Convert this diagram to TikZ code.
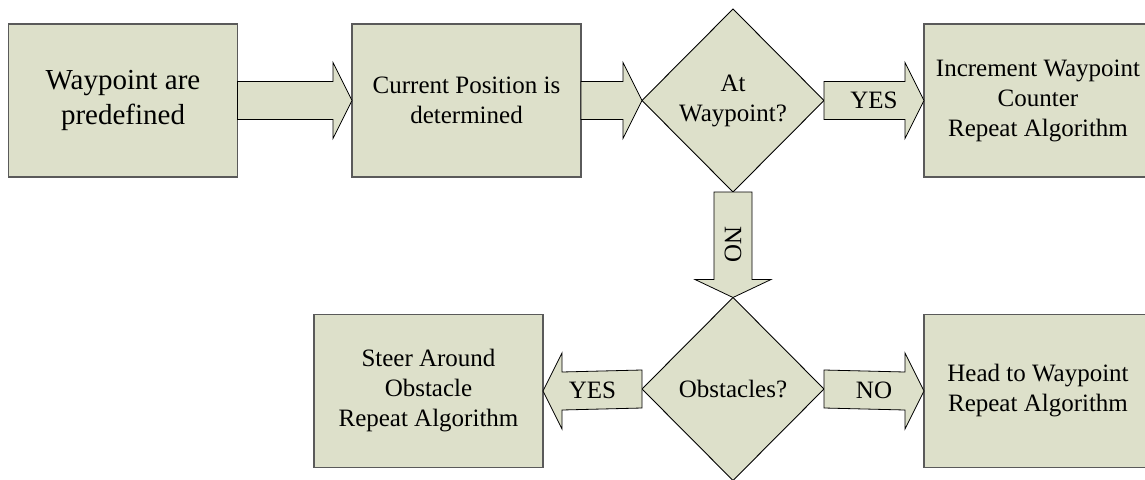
\documentclass[tikz,border=0pt]{standalone}
\usepackage{fontspec}
\setmainfont{Liberation Serif}
\usetikzlibrary{shapes.geometric,calc}
\definecolor{boxfill}{HTML}{DDE0CA}
\definecolor{boxline}{HTML}{5A5A5A}
\tikzset{
  stepbox/.style={draw=boxline, line width=1.2pt, fill=boxfill, rectangle,
    outer sep=0pt, inner sep=0pt, align=center,
    minimum width=229pt, minimum height=153pt,
    font=\fontsize{25}{30}\selectfont},
  bigbox/.style={stepbox, font=\fontsize{29}{35}\selectfont},
  decision/.style={draw=black, line width=0.9pt, fill=boxfill, diamond,
    outer sep=0pt, inner sep=0pt, align=center,
    minimum width=182pt, minimum height=183pt,
    font=\fontsize{25}{30}\selectfont},
  blockarrow/.style={draw=black, line width=0.8pt, fill=boxfill, line join=miter},
  arrowlabel/.style={font=\fontsize{25}{30}\selectfont, inner sep=0pt}
}
\begin{document}
\begin{tikzpicture}[x=1pt,y=-1pt]
\useasboundingbox (0,0) rectangle (1145,479);

\node[bigbox] (b1) at (123,100.5) {Waypoint are\\predefined};
\node[stepbox] (b2) at (466.5,100.5) {Current Position is\\determined};
\node[decision] (d1) at (733,100.5) {At\\Waypoint?};
\node[stepbox, minimum width=228pt] (b3) at (1038,100.5) {Increment Waypoint\\Counter\\Repeat Algorithm};
\node[decision] (d2) at (733,389) {Obstacles?};
\node[stepbox] (b4) at (428.5,391) {Steer Around\\Obstacle\\Repeat Algorithm};
\node[stepbox, minimum width=228pt] (b5) at (1038,391) {Head to Waypoint\\Repeat Algorithm};

% right-pointing block arrows
\draw[blockarrow] ($(b1.east)+(0,-19)$) -- ($(b2.west)+(-19,-19)$) -- ($(b2.west)+(-19,-38)$)
  -- (b2.west) -- ($(b2.west)+(-19,38)$) -- ($(b2.west)+(-19,19)$) -- ($(b1.east)+(0,19)$) -- cycle;
\draw[blockarrow] ($(b2.east)+(0,-19)$) -- ($(d1.west)+(-19,-19)$) -- ($(d1.west)+(-19,-38)$)
  -- (d1.west) -- ($(d1.west)+(-19,38)$) -- ($(d1.west)+(-19,19)$) -- ($(b2.east)+(0,19)$) -- cycle;
\draw[blockarrow] ($(d1.east)+(0,-19)$) -- ($(b3.west)+(-19,-19)$) -- ($(b3.west)+(-19,-38)$)
  -- (b3.west) -- ($(b3.west)+(-19,38)$) -- ($(b3.west)+(-19,19)$) -- ($(d1.east)+(0,19)$) -- cycle;
\node[arrowlabel] (l1) at ($(d1.east)!0.5!(b3.west)$) {YES};

\draw[blockarrow] ($(d2.east)+(0,-19)$) -- ($(b5.west)+(-19,-19)$) -- ($(b5.west)+(-19,-38)$)
  -- (b5.west) -- ($(b5.west)+(-19,38)$) -- ($(b5.west)+(-19,19)$) -- ($(d2.east)+(0,19)$) -- cycle;
\node[arrowlabel] (l3) at ($(d2.east)!0.5!(b5.west)$) {NO};

% left-pointing block arrow
\draw[blockarrow] ($(d2.west)+(0,-19)$) -- ($(b4.east)+(19,-19)$) -- ($(b4.east)+(19,-38)$)
  -- (b4.east) -- ($(b4.east)+(19,38)$) -- ($(b4.east)+(19,19)$) -- ($(d2.west)+(0,19)$) -- cycle;
\node[arrowlabel] (l4) at ($(d2.west)!0.5!(b4.east)$) {YES};

% down-pointing block arrow
\draw[blockarrow] ($(d1.south)+(-19,0)$) -- ($(d2.north)+(-19,-18)$) -- ($(d2.north)+(-38,-18)$)
  -- (d2.north) -- ($(d2.north)+(38,-18)$) -- ($(d2.north)+(19,-18)$) -- ($(d1.south)+(19,0)$) -- cycle;
\node[arrowlabel, rotate=-90] (l2) at ($(d1.south)!0.5!(d2.north)$) {NO};
\end{tikzpicture}
\end{document}
